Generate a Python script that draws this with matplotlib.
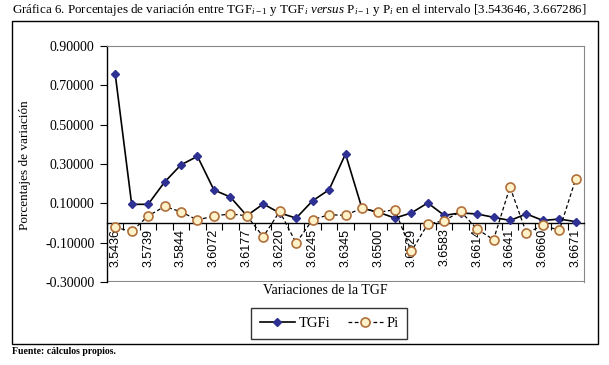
import matplotlib
matplotlib.use("Agg")
import matplotlib.pyplot as plt
from matplotlib.patches import Rectangle
from matplotlib.lines import Line2D

plt.rcParams['mathtext.fontset'] = 'custom'
plt.rcParams['mathtext.rm'] = 'Liberation Serif'
plt.rcParams['mathtext.it'] = 'Liberation Serif:italic'

labels = ["3.5436", "", "3.5739", "", "3.5844", "", "3.6072", "", "3.6177", "",
          "3.6220", "", "3.6245", "", "3.6345", "", "3.6500", "", "3.6529", "",
          "3.6583", "", "3.6614", "", "3.6641", "", "3.6660", "", "3.6671"]
tgf = [0.757, 0.095, 0.095, 0.208, 0.296, 0.339, 0.168, 0.132, 0.037, 0.097,
       0.051, 0.025, 0.113, 0.169, 0.351, 0.075, 0.055, 0.025, 0.051, 0.102,
       0.039, 0.051, 0.046, 0.029, 0.013, 0.046, 0.013, 0.020, 0.007]
pi = [-0.022, -0.043, 0.036, 0.084, 0.057, 0.015, 0.036, 0.046, 0.037, -0.070,
      0.059, -0.102, 0.017, 0.042, 0.039, 0.076, 0.054, 0.068, -0.144, -0.006,
      0.012, 0.059, -0.031, -0.085, 0.183, -0.051, -0.012, -0.037, 0.225]
yticks = [-0.3, -0.1, 0.1, 0.3, 0.5, 0.7, 0.9]

W, H = 609, 365
fig = plt.figure(figsize=(W / 100, H / 100), dpi=100)
fig.patch.set_facecolor('white')

serif = 'Liberation Serif'
sans = 'Liberation Sans'

ax = fig.add_axes([107 / W, (H - 282) / H, (584 - 107) / W, (282 - 46) / H])
x = list(range(len(tgf)))
ax.plot(x, tgf, color='black', lw=1.2, marker='D', markersize=4.5,
        markerfacecolor='#2E3192', markeredgecolor='#2E3192', zorder=3)
ax.plot(x, pi, color='black', lw=0.9, ls=(0, (3, 2)), marker='o', markersize=6.5,
        markerfacecolor='#FFF2C8', markeredgecolor='#B0703C', markeredgewidth=1.2, zorder=4)

ax.set_xlim(-0.5, len(tgf) - 0.5)
ax.set_ylim(-0.3, 0.9)
ax.set_yticks(yticks)
ax.set_yticklabels([f"{v:.5f}".replace('\u2212', '-') for v in yticks],
                   fontfamily=serif, fontsize=10)
ax.tick_params(axis='y', direction='out', length=5, width=0.8, pad=4)

ax.spines['bottom'].set_position(('data', 0))
ax.spines['bottom'].set_linewidth(1.0)
ax.spines['left'].set_linewidth(1.0)
ax.spines['top'].set_color('#888888')
ax.spines['right'].set_color('#888888')
ax.axhline(-0.3, color='#888888', lw=1.5, zorder=1)

ax.set_xticks(x)
ax.set_xticklabels(labels, rotation=90, fontfamily=sans, fontsize=9)
ax.tick_params(axis='x', which='major', length=0, pad=4)
ax.set_xticks([i - 0.5 for i in range(len(tgf) + 1)], minor=True)
ax.tick_params(axis='x', which='minor', direction='out', length=5, width=0.8)

fig.text(25 / W, 1 - 165 / H, "Porcentajes de variación", rotation=90,
         ha='center', va='center', fontfamily=serif, fontsize=9.5)
fig.text(325 / W, 1 - 291 / H, "Variaciones de la TGF", ha='center', va='center',
         fontfamily=serif, fontsize=10)

title = (r"Gráfica 6. Porcentajes de variación entre TGF$_{\mathit{i-1}}$ y TGF$_{\mathit{i}}$ "
         r"$\mathit{versus}$ P$_{\mathit{i-1}}$ y P$_{\mathit{i}}$ en el intervalo [3.543646, 3.667286]")
fig.text(12 / W, 1 - 10 / H, title, ha='left', va='center', fontfamily=serif, fontsize=9.4)

# outer chart border
fig.patches.append(Rectangle((12 / W, 1 - 344 / H), (598 - 12) / W, (344 - 21) / H,
                             transform=fig.transFigure, fill=False, edgecolor='black', lw=1.0))

handles = [Line2D([], [], color='black', lw=1.2, marker='D', markersize=4.5,
                  markerfacecolor='#2E3192', markeredgecolor='#2E3192'),
           Line2D([], [], color='black', lw=0.9, ls=(0, (3, 2)), marker='o', markersize=6.5,
                  markerfacecolor='#FFF2C8', markeredgecolor='#B0703C', markeredgewidth=1.2)]
leg = fig.legend(handles, ["TGFi", "Pi"], loc='center', bbox_to_anchor=(329 / W, 1 - 323.5 / H),
                 ncol=2, frameon=True, fancybox=False, edgecolor='black',
                 prop={'family': serif, 'size': 10.5}, handlelength=2.4, columnspacing=1.2,
                 borderpad=0.6, handletextpad=0.25, borderaxespad=0)
leg.get_frame().set_linewidth(1.0)
leg._legend_box.sep = 0

fig.text(12 / W, 1 - 351 / H, "Fuente: cálculos propios.", ha='left', va='center',
         fontfamily=serif, fontsize=7, fontweight='bold')

fig.savefig("out.png", dpi=100)
